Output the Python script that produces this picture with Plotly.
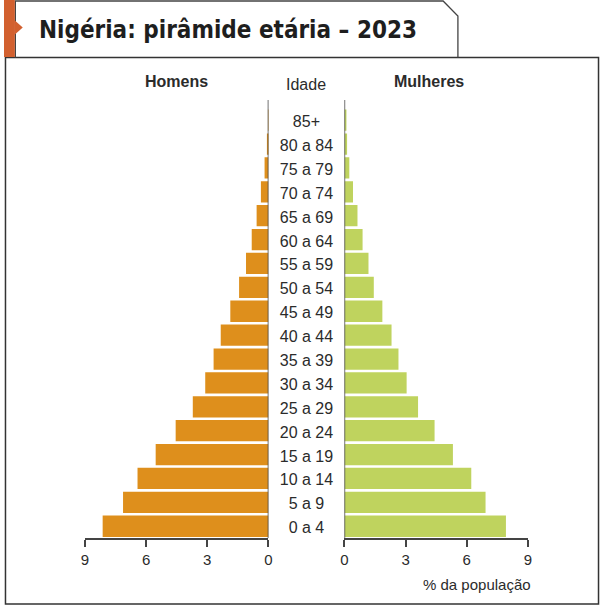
import plotly.graph_objects as go

# faixas etárias (de baixo para cima)
idades = ["0 a 4", "5 a 9", "10 a 14", "15 a 19", "20 a 24", "25 a 29",
          "30 a 34", "35 a 39", "40 a 44", "45 a 49", "50 a 54", "55 a 59",
          "60 a 64", "65 a 69", "70 a 74", "75 a 79", "80 a 84", "85+"]

# % da população
homens = [8.13, 7.13, 6.42, 5.53, 4.55, 3.71, 3.10, 2.69, 2.34, 1.87,
          1.44, 1.10, 0.82, 0.58, 0.37, 0.19, 0.06, 0.01]
mulheres = [7.92, 6.92, 6.22, 5.32, 4.42, 3.61, 3.05, 2.65, 2.31, 1.86,
            1.44, 1.18, 0.89, 0.64, 0.42, 0.24, 0.13, 0.06]

ticks = [0, 3, 6, 9]

W, H = 604, 606
COR_H = "#DE8F1C"
COR_M = "#BFD35E"
TXT = "#2B2B2B"
LINHA = "#444444"
FONTE = "Liberation Sans, Arial, sans-serif"


def px(x):
    return x / W


def py(y):
    return (H - y) / H


fig = go.Figure()

fig.add_trace(go.Bar(
    y=idades, x=homens, orientation="h",
    xaxis="x", yaxis="y",
    marker=dict(color=COR_H, line=dict(width=0)),
    hoverinfo="x+y", name="Homens",
))
fig.add_trace(go.Bar(
    y=idades, x=mulheres, orientation="h",
    xaxis="x2", yaxis="y",
    marker=dict(color=COR_M, line=dict(width=0)),
    hoverinfo="x+y", name="Mulheres",
))
# rótulos das idades no centro (eixo y2 levemente deslocado)
fig.add_trace(go.Scatter(
    y=idades, x=[0.5] * len(idades),
    xaxis="x3", yaxis="y2",
    mode="text", text=idades,
    textfont=dict(size=16, color=TXT, family=FONTE),
    hoverinfo="skip",
))

eixo = dict(
    tickvals=ticks, ticktext=[str(t) for t in ticks],
    showgrid=False, zeroline=False,
    showline=True, linecolor=LINHA, linewidth=1.5,
    ticks="outside", ticklen=7, tickwidth=1.5, tickcolor=LINHA,
    tickfont=dict(size=15, color=TXT, family=FONTE),
    anchor="y", fixedrange=True,
)

fig.update_layout(
    width=W, height=H,
    margin=dict(l=0, r=0, t=0, b=0),
    paper_bgcolor="white", plot_bgcolor="white",
    showlegend=False,
    barmode="overlay", bargap=0.11,
    xaxis=dict(eixo, domain=[px(82), px(268)], range=[9, 0]),
    xaxis2=dict(eixo, domain=[px(345), px(531)], range=[0, 9]),
    xaxis3=dict(domain=[px(268), px(345)], range=[0, 1], visible=False,
                anchor="y2", fixedrange=True),
    yaxis=dict(domain=[py(538.2), py(84.3)], range=[-0.5, 18.5],
               visible=False, fixedrange=True),
    yaxis2=dict(domain=[py(541.2), py(87.3)], range=[-0.5, 18.5],
                visible=False, fixedrange=True, anchor="x3"),
)

# linhas centrais verticais
topo = 17.84
fig.add_shape(type="line", xref="x", yref="y", x0=0, x1=0, y0=-0.5, y1=topo,
              line=dict(color=LINHA, width=1.5))
fig.add_shape(type="line", xref="x2", yref="y", x0=0, x1=0, y0=-0.5, y1=topo,
              line=dict(color=LINHA, width=1.5))

# moldura principal
fig.add_shape(type="rect", xref="paper", yref="paper",
              x0=px(1.5), x1=px(602.5), y0=py(604), y1=py(57.5),
              line=dict(color="#333333", width=1.5), layer="below")

# aba do título
aba = "M {},{} L {},{} L {},{} L {},{} L {},{}".format(
    px(11.5), py(57.5), px(11.5), py(1), px(445), py(1),
    px(460), py(16), px(460), py(57.5))
fig.add_shape(type="path", xref="paper", yref="paper", path=aba,
              line=dict(color="#444444", width=1.3))

# faixa laranja com ponta
fig.add_shape(type="rect", xref="paper", yref="paper",
              x0=px(0), x1=px(11), y0=py(57), y1=py(0),
              fillcolor="#D2602F", line=dict(width=0))
ponta = "M {},{} L {},{} L {},{} Z".format(
    px(10.5), py(20), px(19), py(27.5), px(10.5), py(35))
fig.add_shape(type="path", xref="paper", yref="paper", path=ponta,
              fillcolor="#D2602F", line=dict(width=0))

fig.add_annotation(
    x=px(33), y=py(30), xref="paper", yref="paper",
    xanchor="left", yanchor="middle", showarrow=False,
    text="<b>Nigéria: pirâmide etária – 2023</b>",
    font=dict(size=24, color="#1E1E1E",
              family="DejaVu Sans Condensed, sans-serif"),
)

rotulos = [
    ("<b>Homens</b>", 175, 82, 16, "center"),
    ("Idade", 306, 84, 16, "center"),
    ("<b>Mulheres</b>", 431, 82, 16, "center"),
]
for txt, x, y, s, anc in rotulos:
    fig.add_annotation(x=px(x), y=py(y), xref="paper", yref="paper",
                       xanchor=anc, yanchor="middle", showarrow=False,
                       text=txt, font=dict(size=s, color=TXT, family=FONTE))

fig.add_annotation(x=px(536), y=py(584), xref="paper", yref="paper",
                   xanchor="right", yanchor="middle", showarrow=False,
                   text="% da população",
                   font=dict(size=15, color=TXT, family=FONTE))

fig.write_html(
    "out.html",
    config={"displayModeBar": False},
    post_script=("document.body.style.margin='0';"
                 "document.body.style.overflow='hidden';"
                 "document.documentElement.style.overflow='hidden';"),
)
